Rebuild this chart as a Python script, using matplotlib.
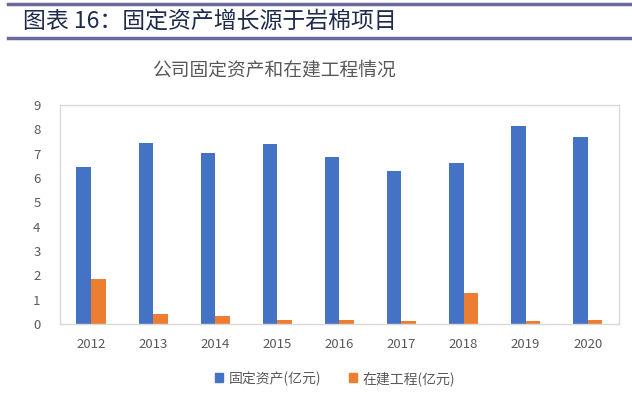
import numpy as np
import matplotlib.pyplot as plt
from matplotlib.lines import Line2D
from matplotlib.patches import Patch

plt.rcParams['font.family'] = ['Noto Sans CJK SC', 'DejaVu Sans']

years = ['2012', '2013', '2014', '2015', '2016', '2017', '2018', '2019', '2020']
fixed_assets = [6.45, 7.43, 7.02, 7.38, 6.86, 6.30, 6.61, 8.15, 7.68]
construction = [1.85, 0.41, 0.32, 0.16, 0.16, 0.11, 1.29, 0.11, 0.16]

blue = '#4472C4'
orange = '#ED7D31'
gray = '#595959'

fig = plt.figure(figsize=(6.32, 3.99), dpi=100)

# header with rules
fig.add_artist(Line2D([0.012, 1.0], [0.99, 0.99], color='#6a6a9c', lw=2.5))
fig.add_artist(Line2D([0.012, 1.0], [0.905, 0.905], color='#6a6a9c', lw=2.5))
fig.text(0.036, 0.948, '图表 16：固定资产增长源于岩棉项目', fontsize=16.5,
         color='#1f2b4d', va='center', ha='left')

fig.text(0.434, 0.825, '公司固定资产和在建工程情况', fontsize=13.5,
         color=gray, va='center', ha='center')

ax = fig.add_axes([0.095, 0.188, 0.884, 0.549])
x = np.arange(len(years))
w = 0.235
ax.bar(x - w / 2, fixed_assets, w, color=blue, label='固定资产(亿元)')
ax.bar(x + w / 2, construction, w, color=orange, label='在建工程(亿元)')

ax.set_xlim(-0.5, len(years) - 0.5)
ax.set_ylim(0, 9)
ax.set_yticks(range(10))
ax.set_xticks(x)
ax.set_xticklabels(years)
ax.tick_params(length=0, colors=gray, labelsize=9.5)
ax.tick_params(axis='x', pad=10)
ax.tick_params(axis='y', pad=14)
for s in ax.spines.values():
    s.set_color('#d9d9d9')
    s.set_linewidth(1)

handles = [Patch(color=blue), Patch(color=orange)]
fig.legend(handles, ['固定资产(亿元)', '在建工程(亿元)'], loc='center',
           bbox_to_anchor=(0.53, 0.052), ncol=2, frameon=False, fontsize=10,
           handlelength=0.6, handleheight=0.6, handletextpad=0.4,
           columnspacing=2.0, labelcolor=gray)

fig.savefig('out.png', dpi=100)
